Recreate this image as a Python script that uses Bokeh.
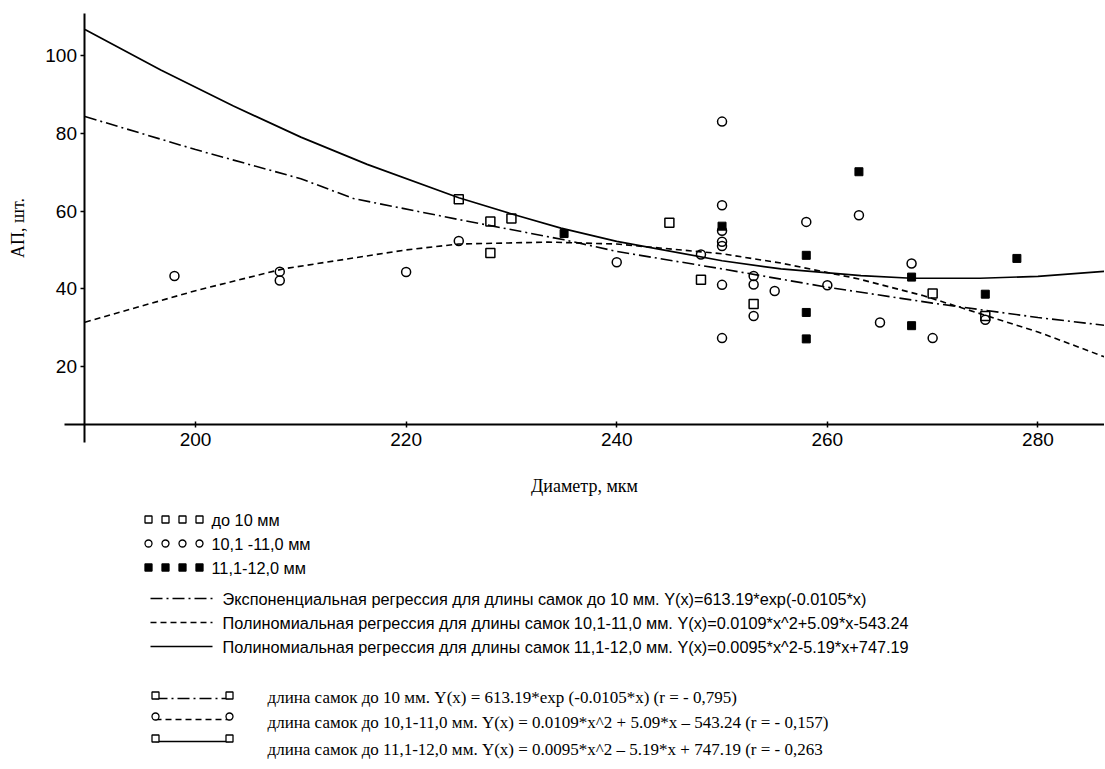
from bokeh.plotting import figure
from bokeh.models import LinearAxis, FixedTicker, Range1d
from bokeh.layouts import column
from bokeh.embed import file_html
from bokeh.resources import INLINE
from bokeh.core.properties import value

# ---------------- data ----------------
# до 10 мм (open squares)
sq_x = [225, 228, 230, 228, 245, 248, 253, 270, 275]
sq_y = [63.0, 57.3, 58.1, 49.2, 57.0, 42.3, 36.1, 38.8, 33.0]

# 10,1-11,0 мм (open circles)
ci_x = [198, 208, 208, 220, 225, 240, 248, 250, 250, 250, 250, 250, 250, 250,
        253, 253, 253, 255, 258, 260, 263, 265, 268, 270, 275]
ci_y = [43.3, 44.4, 42.1, 44.3, 52.3, 46.8, 48.8, 83.0, 61.5, 54.9, 52.1, 51.0, 41.0, 27.3,
        43.3, 41.1, 33.0, 39.4, 57.2, 40.9, 58.9, 31.3, 46.5, 27.3, 32.0]

# 11,1-12,0 мм (filled squares)
fs_x = [235, 250, 258, 258, 258, 263, 268, 268, 275, 278]
fs_y = [54.2, 56.1, 48.6, 33.9, 27.1, 70.1, 43.0, 30.5, 38.6, 47.8]

# regression curves
exp_x = [189.5, 200, 210, 215, 225, 235, 240, 250, 260, 270, 280, 286.3]
exp_y = [84.3, 75.8, 68.3, 63.2, 57.8, 52.6, 49.6, 45.1, 40.4, 36.3, 32.6, 30.6]

pol1_x = [189.5, 200, 208.3, 220, 225, 233.5, 240, 250, 255.6, 263, 269, 274.5, 280, 286.3]
pol1_y = [31.4, 39.5, 45.1, 50.0, 51.5, 52.0, 51.5, 49.0, 46.6, 42.5, 38.3, 33.6, 28.9, 22.5]

pol2_x = [189.5, 196.7, 203.6, 210, 216.3, 225, 230.2, 234.7, 240, 250, 255.6, 263.2, 268, 274.5, 280, 286.3]
pol2_y = [106.7, 96.3, 87.0, 79.0, 72.0, 63.4, 59.1, 55.6, 52.2, 47.2, 45.1, 43.4, 42.7, 42.7, 43.2, 44.5]

x_ticks = [200, 220, 240, 260, 280]
y_ticks = [20, 40, 60, 80, 100]

x_title = "Диаметр, мкм"
y_title = "АП, шт."

legend_marker_labels = ["до 10 мм", "10,1 -11,0 мм", "11,1-12,0 мм"]
legend_line_labels = [
    "Экспоненциальная регрессия для длины самок до 10 мм. Y(x)=613.19*exp(-0.0105*x)",
    "Полиномиальная регрессия для длины самок 10,1-11,0 мм. Y(x)=0.0109*x^2+5.09*x-543.24",
    "Полиномиальная регрессия для длины самок 11,1-12,0 мм. Y(x)=0.0095*x^2-5.19*x+747.19",
]
legend_r_labels = [
    "длина самок до 10 мм. Y(x) = 613.19*exp (-0.0105*x) (r = - 0,795)",
    "длина самок до 10,1-11,0 мм. Y(x) = 0.0109*x^2 + 5.09*x \u2013 543.24 (r = - 0,157)",
    "длина самок до 11,1-12,0 мм. Y(x) = 0.0095*x^2 \u2013 5.19*x + 747.19 (r = - 0,263",
]

# ---------------- styles ----------------
DASHDOT = "12 4 2 4"
DASHED = "6 4"
SANS = "Liberation Sans"
SERIF = "Liberation Serif"

W = 1104
H_TOP = 508
H_LEG = 260

# ---------------- main chart ----------------
p = figure(width=W, height=H_TOP,
           x_range=Range1d(181.48, 286.32), y_range=Range1d(-16.53, 114.15),
           x_axis_location=None, y_axis_location=None,
           toolbar_location=None, output_backend="svg",
           min_border=0)
p.outline_line_color = None
p.background_fill_color = "white"
p.border_fill_color = "white"
for g in p.grid:
    g.visible = False

yax = LinearAxis(fixed_location=189.5, bounds=(0.45, 110.8),
                 ticker=FixedTicker(ticks=y_ticks), axis_label=y_title)
xax = LinearAxis(fixed_location=5.1, bounds=(187.56, 286.32),
                 ticker=FixedTicker(ticks=x_ticks), axis_label=x_title)
for ax in (xax, yax):
    ax.axis_line_width = 2
    ax.axis_line_color = "black"
    ax.major_tick_line_color = "black"
    ax.major_tick_line_width = 1.5
    ax.minor_tick_line_color = None
    ax.major_label_text_font = SANS
    ax.major_label_text_font_size = "19px"
    ax.major_label_text_color = "black"
    ax.axis_label_text_font = SERIF
    ax.axis_label_text_font_style = "normal"
    ax.axis_label_text_font_size = "18px"
    ax.axis_label_text_color = "black"
xax.major_tick_in = 3
xax.major_tick_out = 3
xax.major_label_standoff = 6
xax.axis_label_standoff = 26
yax.major_tick_in = 0
yax.major_tick_out = 4
yax.major_label_standoff = 4
yax.axis_label_standoff = 14
p.add_layout(yax, "left")
p.add_layout(xax, "below")

p.line(exp_x, exp_y, line_color="black", line_width=1.6, line_dash=DASHDOT)
p.line(pol1_x, pol1_y, line_color="black", line_width=1.6, line_dash=DASHED)
p.line(pol2_x, pol2_y, line_color="black", line_width=1.7)

p.scatter(sq_x, sq_y, marker="square", size=9, fill_color=None, line_color="black", line_width=1.5)
p.scatter(ci_x, ci_y, marker="circle", size=9, fill_color=None, line_color="black", line_width=1.5)
p.scatter(fs_x, fs_y, marker="square", size=8, fill_color="black", line_color="black", line_width=1)

# ---------------- legend panel (page pixel coordinates) ----------------
lg = figure(width=W, height=H_LEG,
            x_range=Range1d(0, W), y_range=Range1d(H_TOP + H_LEG, H_TOP),
            x_axis_location=None, y_axis_location=None,
            toolbar_location=None, output_backend="svg",
            min_border=0)
lg.outline_line_color = None
for g in lg.grid:
    g.visible = False

row_y = [519, 543, 567, 598, 622, 646]
mk_x = [148, 165, 182, 199]
markers = [("square", None), ("circle", None), ("square", "black")]
for (mk, fill), yy in zip(markers, row_y[:3]):
    lg.scatter(mk_x, [yy] * 4, marker=mk, size=7, fill_color=fill,
               line_color="black", line_width=1.3)
lg.text([211] * 3, row_y[:3], text=legend_marker_labels, text_font=value(SANS),
        text_font_size="16.3px", text_baseline="middle", text_align="left", text_color="black")

dashes = [DASHDOT, DASHED, "solid"]
for d, yy in zip(dashes, row_y[3:]):
    lg.line([150, 212], [yy, yy], line_color="black", line_width=1.3, line_dash=d)
lg.text([222] * 3, row_y[3:], text=legend_line_labels, text_font=value(SANS),
        text_font_size="16.3px", text_baseline="middle", text_align="left", text_color="black")

s_y = [695, 716, 738]
t_y = [697, 722, 749]
s_markers = ["square", "circle", "square"]
for mk, d, yy in zip(s_markers, dashes, s_y):
    lg.line([155, 229], [yy + 3, yy + 3], line_color="black", line_width=1.3, line_dash=d)
    lg.scatter([155, 229], [yy, yy], marker=mk, size=7, fill_color="white",
               line_color="black", line_width=1.3)
lg.text([267] * 3, t_y, text=legend_r_labels, text_font=value(SERIF),
        text_font_size="17px", text_baseline="middle", text_align="left", text_color="black")

layout = column(p, lg, spacing=0)
open("out.html", "w").write(file_html(layout, INLINE))
